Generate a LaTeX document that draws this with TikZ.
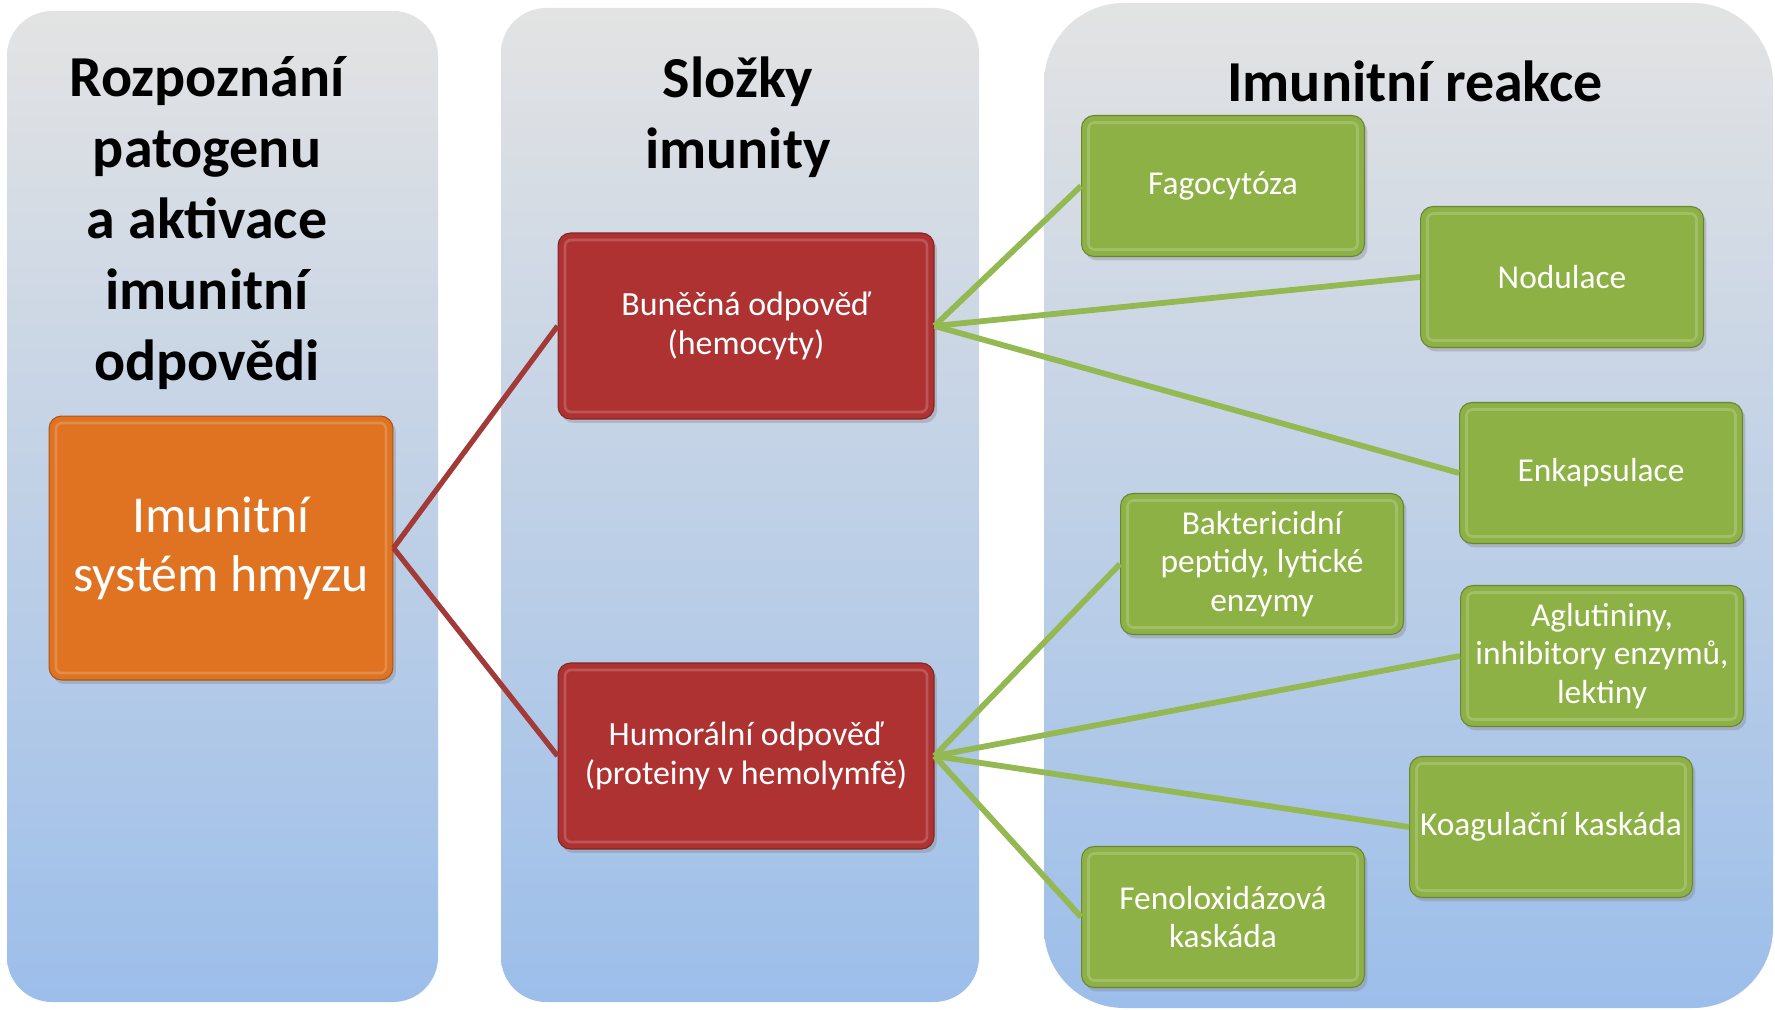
\documentclass[tikz,border=0pt]{standalone}
\usepackage{fontspec}
\setmainfont{Carlito}
\usetikzlibrary{shadows}
\definecolor{panelTop}{HTML}{E3E3E3}
\definecolor{panelBot}{HTML}{9CBEEA}
\definecolor{orangeBox}{HTML}{DF7322}
\definecolor{redBox}{HTML}{AF3232}
\definecolor{greenBox}{HTML}{8DB145}
\definecolor{redLink}{HTML}{A23A37}
\definecolor{greenLink}{HTML}{95B952}

\begin{document}
\begin{tikzpicture}[x=0.02cm,y=-0.02cm,
    panel/.style={top color=panelTop,bottom color=panelBot,rounded corners=#1},
    title/.style={font=\fontsize{33}{40.5}\selectfont\bfseries,align=center},
    bevelbox/.style={rounded corners=0.25cm,fill=#1,draw=#1!75!black,line width=0.6pt,
        text=white,align=center,inner sep=2pt,
        drop shadow={opacity=0.35,shadow xshift=0.06cm,shadow yshift=-0.08cm},
        path picture={\draw[white,opacity=0.18,line width=1.5pt,rounded corners=0.12cm]
            ([shift={(0.14cm,-0.14cm)}]path picture bounding box.north west) rectangle
            ([shift={(-0.14cm,0.14cm)}]path picture bounding box.south east);}},
    sysbox/.style={bevelbox=orangeBox,minimum width=6.88cm,minimum height=5.28cm,
        font=\fontsize{29.5}{33.5}\selectfont},
    partbox/.style={bevelbox=redBox,minimum width=7.52cm,minimum height=3.72cm,
        font=\fontsize{19.3}{21.8}\selectfont},
    reactbox/.style={bevelbox=greenBox,minimum width=5.66cm,minimum height=2.82cm,
        font=\fontsize{19}{21.8}\selectfont},
    redlink/.style={draw=redLink,line width=3pt},
    greenlink/.style={draw=greenLink,line width=3.3pt}]

    \useasboundingbox (0,0) rectangle (1775,1010);

    % sloupce
    \path[panel=0.9cm] (7,11) rectangle (438,1002);
    \path[panel=0.9cm] (501,8) rectangle (979,1002);
    \path[panel=1.6cm] (1044,3) rectangle (1773,1008);

    \node[title] (recog) at (207,223) {Rozpoznání\\patogenu\\a aktivace\\imunitní\\odpovědi};
    \node[title] (parts) at (738,117) {Složky\\imunity};
    \node[title] (react) at (1415,81) {Imunitní reakce};

    \node[sysbox] (sys) at (221,548) {Imunitní\\systém hmyzu};

    \node[partbox] (cell) at (746,326) {Buněčná odpověď\\(hemocyty)};
    \node[partbox] (humor) at (746,756) {Humorální odpověď\\(proteiny v hemolymfě)};

    \node[reactbox] (fago) at (1223,186) {Fagocytóza};
    \node[reactbox] (nodul) at (1562,277) {Nodulace};
    \node[reactbox] (enkap) at (1601,473) {Enkapsulace};
    \node[reactbox] (bakt) at (1262,564) {Baktericidní\\peptidy, lytické\\enzymy};
    \node[reactbox] (aglut) at (1602,656) {Aglutininy,\\inhibitory enzymů,\\lektiny};
    \node[reactbox] (koag) at (1551,827) {Koagulační kaskáda};
    \node[reactbox] (fenol) at (1223,917) {Fenoloxidázová\\kaskáda};

    \draw[redlink] (sys.east) -- (cell.west);
    \draw[redlink] (sys.east) -- (humor.west);

    \foreach \t in {fago,nodul,enkap}
        \draw[greenlink] (cell.east) -- (\t.west);
    \foreach \t in {bakt,aglut,koag,fenol}
        \draw[greenlink] (humor.east) -- (\t.west);

\end{tikzpicture}
\end{document}
